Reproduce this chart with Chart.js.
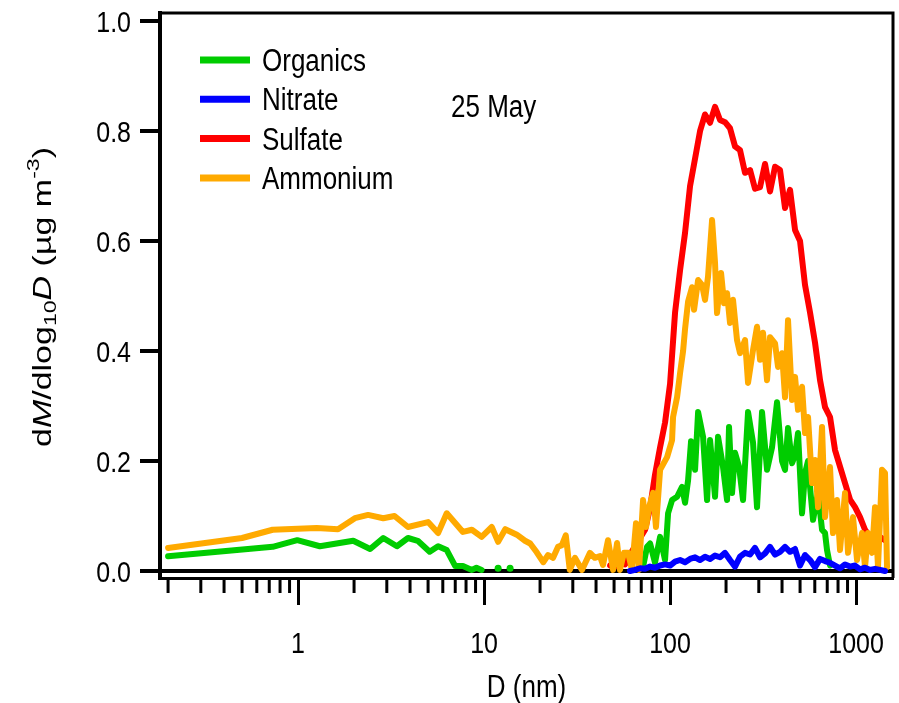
<!DOCTYPE html>
<html>
<head>
<meta charset="utf-8">
<script src="https://cdn.jsdelivr.net/npm/chart.js@4.4.0/dist/chart.umd.min.js"></script>
<style>
  html, body { margin: 0; padding: 0; background: #fff; }
</style>
</head>
<body>
<canvas id="sizeChart" width="899" height="703"></canvas>
<script>
// diameters (nm) of the size bins used for sulfate and nitrate
const binD = [42.0, 44.7, 47.6, 50.6, 53.8, 57.3, 60.9, 64.8, 69.0, 73.4,
  78.1, 83.0, 88.4, 94.0, 100, 106.4, 113.2, 120.4, 128.1, 136.3,
  145.0, 154.2, 164.1, 174.5, 185.7, 197.5, 210.1, 223.5, 237.8, 253.0,
  269.2, 286.3, 304.6, 324.1, 344.8, 366.8, 390.2, 415.1, 441.6, 469.8,
  499.8, 531.7, 565.7, 601.8, 640.2, 681.1, 724.6, 770.8, 820.0, 872.4,
  928.1, 987.3, 1050.4, 1117.4, 1188.8, 1264.7, 1345.4, 1431.3, 1522.7];

const sulfate = [null, null, 0.01, 0.008, 0.015, 0.012, 0.03, 0.045, 0.06, 0.075,
  0.115, 0.175, 0.225, 0.27, 0.34, 0.47, 0.547, 0.615, 0.70, 0.75,
  0.80, 0.83, 0.815, 0.844, 0.82, 0.816, 0.805, 0.772, 0.765, 0.724,
  0.729, 0.695, 0.698, 0.74, 0.69, 0.735, 0.729, 0.66, 0.693, 0.62,
  0.60, 0.52, 0.47, 0.415, 0.347, 0.298, 0.28, 0.22, 0.19, 0.16,
  0.13, 0.116, 0.098, 0.075, 0.062, 0.069, 0.062, 0.056, null];

const nitrate = [null, null, null, null, null, null, 0, 0.002, 0.005, 0.004,
  0.008, 0.006, 0.01, 0.012, 0.01, 0.017, 0.02, 0.016, 0.022, 0.025,
  0.02, 0.026, 0.022, 0.028, 0.025, 0.033, 0.02, 0.008, 0.026, 0.033,
  0.03, 0.042, 0.025, 0.032, 0.044, 0.03, 0.035, 0.044, 0.035, 0.04,
  0.01, 0.029, 0.02, 0.007, 0.022, 0.018, 0.015, 0.01, 0.005, 0.012,
  0.008, 0.01, 0.003, 0.006, 0.002, 0.004, 0.002, 0, null];

// organics: sparse small sizes, a gap, then the accumulation mode
const organicsD = [0.2, 0.73, 0.99, 1.31, 1.98, 2.44, 2.87, 3.4, 3.9, 4.4,
  5.1, 5.66, 6.3, 7.0, 7.7, 8.6, 9.1, 9.7, 10.8, 11.9,
  12.8, 13.8, 15.0,
  69.0, 71.6, 75.2, 78.1, 83.0, 88.4, 94.0, 97.6, 102.5, 109.1,
  116.0, 120.4, 125.0, 129.7, 136.3, 141.5, 150.5, 158.1, 164.1, 174.5,
  181.1, 192.7, 202.5, 207.5, 215.4, 223.5, 234.9, 246.8, 262.6, 279.4,
  293.5, 312.2, 332.2, 353.5, 376.0, 400.0, 415.1, 430.8, 452.7, 469.8,
  487.6, 512.3, 531.7, 551.8, 565.7, 587.1, 624.6, 656.3, 681.1, 698.2,
  724.6];
const organics = [0.027, 0.044, 0.056, 0.045, 0.055, 0.04, 0.06, 0.045, 0.06, 0.055,
  0.035, 0.045, 0.038, 0.009, 0.009, 0.002, 0.006, 0.002, null, 0.005,
  null, 0.005, null,
  0.005, 0.008, 0.044, 0.05, 0.015, 0.062, 0.02, 0.105, 0.129, 0.135,
  0.153, 0.124, 0.165, 0.236, 0.184, 0.289, 0.244, 0.129, 0.238, 0.135,
  0.244, 0.189, 0.129, 0.262, 0.142, 0.215, 0.19, 0.129, 0.289, 0.233,
  0.116, 0.289, 0.184, 0.225, 0.307, 0.2, 0.184, 0.26, 0.196, 0.21,
  0.251, 0.105, 0.178, 0.2, 0.153, 0.093, 0.142, 0.075, 0.069, 0.038,
  0.01];

const ammoniumD = [0.2, 0.5, 0.73, 1.26, 1.64, 2.02, 2.38, 2.87, 3.3, 3.9,
  5.0, 5.66, 6.3, 7.7, 8.6, 9.7, 11.0, 11.9, 13.0, 15.0,
  16.6, 17.7, 19.2, 20.8, 22.1, 23.5, 25.0, 26.2, 27.5, 28.9,
  30.8, 33.6, 37.1, 39.4,
  42.0, 43.6, 46.4, 49.4, 51.9, 53.8, 56.5, 59.5, 62.4, 65.6,
  68.1, 71.6, 74.3, 77.1, 81.1, 84.0, 88.4, 96.4, 102.5, 103.8,
  109.1, 113.2, 117.5, 120.4, 125.0, 131.3, 134.6, 141.5, 148.6, 154.2,
  160.0, 168.2, 174.5, 178.9, 188.0, 195.1, 202.5, 210.1, 218.0, 229.1,
  237.8, 253.0, 262.6, 279.4, 293.5, 304.6, 316.1, 332.2, 344.8, 366.8,
  380.7, 400.0, 415.1, 430.8, 452.7, 469.8, 487.6, 512.3, 531.7, 551.8,
  579.9, 601.8, 624.6, 656.3, 681.1, 724.6, 752.0, 790.1, 820.0, 872.4,
  905.4, 963.2, 1012.1, 1076.8, 1117.4, 1159.6, 1218.6, 1264.7, 1312.5, 1379.2,
  1431.3, 1467.2];
const ammonium = [0.042, 0.06, 0.075, 0.078, 0.076, 0.096, 0.102, 0.096, 0.1, 0.08,
  0.089, 0.069, 0.105, 0.071, 0.075, 0.062, 0.08, 0.053, 0.076, 0.066,
  0.055, 0.05, 0.034, 0.016, 0.029, 0.024, 0.044, 0.047, 0.065, 0.002,
  0.024, 0.002, 0.033, 0.024,
  0.027, 0.011, 0.056, 0.002, 0.051, 0.002, 0.033, 0.033, 0.002, 0.087,
  0.002, 0.129, 0.08, 0.116, 0.142, 0.08, 0.184, 0.207, 0.238, 0.28,
  0.316, 0.36, 0.40, 0.44, 0.49, 0.516, 0.475, 0.529, 0.52, 0.493,
  0.535, 0.638, 0.56, 0.469, 0.542, 0.487, 0.505, 0.451, 0.493, 0.42,
  0.396, 0.42, 0.342, 0.402, 0.444, 0.384, 0.433, 0.347, 0.425, 0.414,
  0.371, 0.396, 0.316, 0.456, 0.311, 0.353, 0.293, 0.335, 0.251, 0.28,
  0.16, 0.202, 0.116, 0.262, 0.098, 0.189, 0.069, 0.129, 0.038, 0.142,
  0.033, 0.098, 0.02, 0.069, 0.007, 0.069, 0.033, 0.116, 0.007, 0.184,
  0.178, 0.007];

const seriesNames = ["Organics", "Nitrate", "Sulfate", "Ammonium"];
const seriesColors = ["#00CC00", "#0000FF", "#FF0000", "#FFAA00"];

const xLabelTicks = [1, 10, 100, 1000];
const xMinorTicks = [0.2, 0.3, 0.4, 0.5, 0.6, 0.7, 0.8, 0.9,
  2, 3, 4, 5, 6, 7, 8, 9, 20, 30, 40, 50, 60, 70, 80, 90,
  200, 300, 400, 500, 600, 700, 800, 900];
const yTicks = [0, 0.2, 0.4, 0.6, 0.8, 1.0];

const FAMILY = '"Liberation Sans", Arial, sans-serif';
const STRETCH = 1.2; // the original text is taller than it is wide

function pairs(xs, ys) {
  return xs.map((x, i) => ({ x: x, y: ys[i] }));
}

// single points with no neighbours get a dot, everything else is a plain line
function isolatedRadius(ctx) {
  const data = ctx.dataset.data;
  const i = ctx.dataIndex;
  if (!data[i] || data[i].y == null) return 0;
  const prev = data[i - 1], next = data[i + 1];
  const noPrev = !prev || prev.y == null;
  const noNext = !next || next.y == null;
  return noPrev && noNext ? 3.5 : 0;
}

function makeSet(idx, data, order) {
  return {
    label: seriesNames[idx],
    data: data,
    borderColor: seriesColors[idx],
    backgroundColor: seriesColors[idx],
    borderWidth: 6,
    borderJoinStyle: "round",
    borderCapStyle: "round",
    pointRadius: isolatedRadius,
    pointBorderWidth: 0,
    pointHoverRadius: 0,
    tension: 0,
    spanGaps: false,
    order: order,
  };
}

function tallText(ctx, text, x, y, size, align) {
  ctx.save();
  ctx.translate(x, y);
  ctx.scale(1, STRETCH);
  ctx.font = size + "px " + FAMILY;
  ctx.textAlign = align;
  ctx.textBaseline = "alphabetic";
  ctx.fillText(text, 0, 0);
  ctx.restore();
}

const frameAndText = {
  id: "frameAndText",
  afterDraw(chart) {
    const ctx = chart.ctx;
    const a = chart.chartArea;
    const xs = chart.scales.x;
    const ys = chart.scales.y;
    ctx.save();
    ctx.strokeStyle = "#000";
    ctx.lineWidth = 3;
    // top and right frame
    ctx.beginPath();
    ctx.moveTo(a.left, a.top);
    ctx.lineTo(a.right, a.top);
    ctx.lineTo(a.right, a.bottom);
    ctx.stroke();
    // minor ticks on the log axis
    xMinorTicks.forEach((v) => {
      const px = xs.getPixelForValue(v);
      ctx.beginPath();
      ctx.moveTo(px, a.bottom);
      ctx.lineTo(px, a.bottom + 15);
      ctx.stroke();
    });

    ctx.fillStyle = "#000";
    // tick labels
    xLabelTicks.forEach((v) => {
      tallText(ctx, String(v), xs.getPixelForValue(v), 653, 25, "center");
    });
    yTicks.forEach((v) => {
      tallText(ctx, v.toFixed(1), 131, ys.getPixelForValue(v) + 11, 25, "right");
    });
    tallText(ctx, "D (nm)", (a.left + a.right) / 2, 697, 26, "center");

    // legend
    seriesNames.forEach((name, i) => {
      const y = 60 + i * 39.3;
      ctx.strokeStyle = seriesColors[i];
      ctx.lineWidth = 7;
      ctx.beginPath();
      ctx.moveTo(200, y);
      ctx.lineTo(250, y);
      ctx.stroke();
      tallText(ctx, name, 262, y + 11, 26, "left");
    });
    tallText(ctx, "25 May", 451, 117, 26, "left");

    // y axis title, with italics, subscript and superscript
    const base = "25px " + FAMILY;
    const small = "17px " + FAMILY;
    const parts = [
      { t: "d", f: base, dy: 0 },
      { t: "M", f: "italic " + base, dy: 0 },
      { t: "/dlog", f: base, dy: 0 },
      { t: "10", f: small, dy: 5 },
      { t: "D", f: "italic " + base, dy: 0 },
      { t: " (\u00B5g m", f: base, dy: 0 },
      { t: "-3", f: small, dy: -12 },
      { t: ")", f: base, dy: 0 },
    ];
    let total = 0;
    parts.forEach((p) => {
      ctx.font = p.f;
      p.w = ctx.measureText(p.t).width;
      total += p.w;
    });
    ctx.translate(51, 297);
    ctx.rotate(-Math.PI / 2);
    ctx.scale(300 / total, 1);
    ctx.textBaseline = "alphabetic";
    ctx.textAlign = "left";
    let cx = -total / 2;
    parts.forEach((p) => {
      ctx.font = p.f;
      ctx.fillText(p.t, cx, p.dy);
      cx += p.w;
    });
    ctx.restore();
  },
};

const ctx = document.getElementById("sizeChart").getContext("2d");
const myChart = new Chart(ctx, {
  type: "line",
  data: {
    datasets: [
      makeSet(0, pairs(organicsD, organics), 2),
      makeSet(1, pairs(binD, nitrate), 0),
      makeSet(2, pairs(binD, sulfate), 3),
      makeSet(3, pairs(ammoniumD, ammonium), 1),
    ],
  },
  options: {
    responsive: false,
    animation: false,
    devicePixelRatio: 1,
    layout: { padding: { left: 0, right: 6, top: 13, bottom: 0 } },
    plugins: {
      legend: { display: false },
      tooltip: { enabled: false },
    },
    scales: {
      x: {
        type: "logarithmic",
        position: "bottom",
        min: 0.181,
        max: 1580,
        afterBuildTicks: (scale) => {
          scale.ticks = xLabelTicks.map((v) => ({ value: v }));
        },
        afterFit: (scale) => {
          scale.height = 125;
          scale.paddingLeft = 0;
          scale.paddingRight = 0;
        },
        ticks: { display: false },
        grid: {
          drawOnChartArea: false,
          drawTicks: true,
          tickLength: 27,
          tickWidth: 3,
          tickColor: "#000",
        },
        border: { display: true, width: 3, color: "#000" },
      },
      y: {
        type: "linear",
        min: -0.0127,
        max: 1.0145,
        afterBuildTicks: (scale) => {
          scale.ticks = yTicks.map((v) => ({ value: v }));
        },
        afterFit: (scale) => {
          scale.width = 160;
          scale.paddingTop = 0;
          scale.paddingBottom = 0;
        },
        ticks: { display: false },
        grid: {
          drawOnChartArea: true,
          drawTicks: true,
          tickLength: 20,
          tickWidth: 4,
          tickColor: "#000",
          color: (c) => (c.tick && c.tick.value === 0 ? "#000" : "rgba(0,0,0,0)"),
          lineWidth: (c) => (c.tick && c.tick.value === 0 ? 4 : 0),
        },
        border: { display: true, width: 4, color: "#000" },
      },
    },
  },
  plugins: [frameAndText],
});
</script>
</body>
</html>
